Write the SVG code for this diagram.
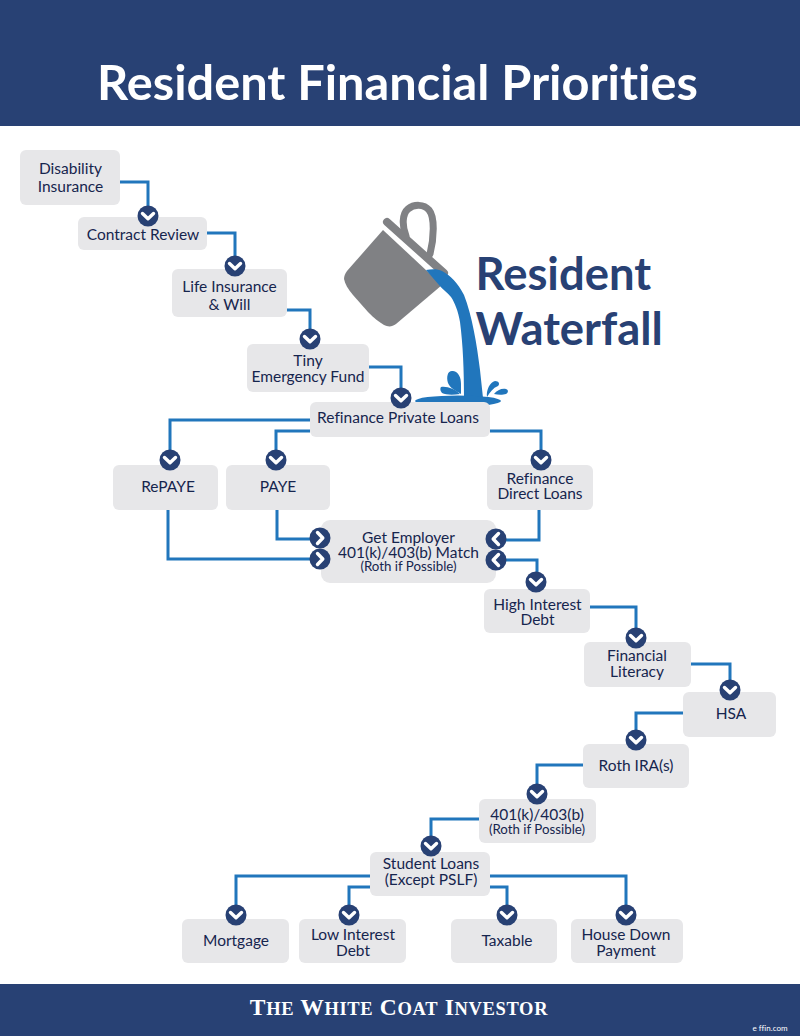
<svg xmlns="http://www.w3.org/2000/svg" width="800" height="1036" viewBox="0 0 800 1036">
<style>
.band{fill:#284174}
.box{fill:#e7e7e9}
text{font-variant-ligatures:none}
.t{font-family:Lato,"Open Sans",sans-serif;font-size:15.5px;fill:#16254e;text-anchor:middle}
.s{font-size:13.300px}
.c{fill:none;stroke:#2176bc;stroke-width:3}
.bub{fill:#284174}
.chev{fill:none;stroke:#fff;stroke-width:3.4;stroke-linecap:round;stroke-linejoin:round}
</style>
<defs>
<g id="d"><circle class="bub" r="10.5"/><path class="chev" d="M-5.5-2.5 0 2.8 5.500-2.5"/></g>
<g id="r"><circle class="bub" r="10.5"/><path class="chev" d="M-2.500-5.500 2.800 0-2.500 5.500"/></g>
<g id="l"><circle class="bub" r="10.5"/><path class="chev" d="M2.500-5.500-2.800 0 2.500 5.500"/></g>
</defs>
<rect width="800" height="1036" fill="#fff"/>
<g id="header"><rect class="band" width="800" height="126"/>
<text x="397.500" y="100" font-family="Lato,sans-serif" font-weight="700" font-size="48.700" fill="#fff" text-anchor="middle">Resident Financial Priorities</text></g>
<g id="footer"><rect class="band" y="984" width="800" height="52"/>
<text x="399" y="1014.500" font-family="'Liberation Serif',serif" font-weight="700" font-size="23.500" fill="#fff" text-anchor="middle" letter-spacing=".65">T<tspan font-size="18.500">HE</tspan> W<tspan font-size="18.500">HITE</tspan> C<tspan font-size="18.500">OAT</tspan> I<tspan font-size="18.500">NVESTOR</tspan></text>
<text x="770" y="1031" font-family="Lato,sans-serif" font-size="8" fill="#fff" text-anchor="middle">e ffin.com</text></g>
<g id="connectors">
<path class="c" d="M119 182H148V216"/>
<path class="c" d="M207 233H235V266"/>
<path class="c" d="M287 310H310V339"/>
<path class="c" d="M369 367H401V398"/>
<path class="c" d="M310 420H170V460"/>
<path class="c" d="M310 431H276V460"/>
<path class="c" d="M490 431H541V460"/>
<path class="c" d="M277 510V539H320"/>
<path class="c" d="M168 510V559H320"/>
<path class="c" d="M539 510V540H496"/>
<path class="c" d="M496 560H537V582"/>
<path class="c" d="M590 607H636V638"/>
<path class="c" d="M691 664H730V690"/>
<path class="c" d="M683 713H636V740"/>
<path class="c" d="M583 765H537V794"/>
<path class="c" d="M479 819H431V846"/>
<path class="c" d="M370 876H236V915"/>
<path class="c" d="M370 887H349V915"/>
<path class="c" d="M490 887H507V915"/>
<path class="c" d="M490 876H626V915"/>
</g>
<g id="bucket">
<path d="M406 236C402 226 402 214 408 209C414 204 424 204 429 210C435 217 434 238 430 254" fill="none" stroke="#808184" stroke-width="7" stroke-linecap="round"/>
<path d="M387 222 444 273" fill="none" stroke="#808184" stroke-width="8" stroke-linecap="round"/>
<path d="M383 230 442 285 396 324C392 327 388 327 384 325 379 322 374 318 368 312L353 295C348 289 345 284 344 279 344 276 345 274 347 271Z" fill="#808184"/>
<path d="M384 227 441 280" fill="none" stroke="#fff" stroke-width="1.800"/>
</g>
<g id="water" fill="#2176bc">
<path d="M426 270C432 269 438 269 442 271 450 275 458 283 464 295 472 315 477 345 480 370L483 398H464C464 370 463 345 460 322 458 311 455 303 451 297 447 292 443 290 439 285Z"/>
<ellipse cx="458" cy="401" rx="43" ry="5.500"/>
<path d="M461 394C456 391 450 388 448 383 446 376 448 370 453 371 459 372 461 378 461 384Z"/>
<path d="M441 387C447 386 455 389 460 394 453 395 446 395 442 393 440 391 440 388 441 387Z"/>
<path d="M487 397C486 390 490 382 495 381 499 381 500 384 498 386 493 388 490 392 487 397Z"/>
<path d="M494 394C497 390 502 388 506 389 509 390 508 393 506 394 503 395 498 395 494 394Z"/>
</g>
<g id="title" font-family="Lato,sans-serif" font-weight="700" font-size="45.400" fill="#284174">
<text x="475.500" y="290">Resident</text><text x="475.500" y="345">Waterfall</text></g>
<g id="n1"><rect class="box" x="20" y="150" width="100" height="55" rx="6"/><text class="t" x="70.500" y="174">Disability</text><text class="t" x="70.500" y="192">Insurance</text></g>
<g id="n2"><rect class="box" x="78" y="217" width="129" height="33" rx="6"/><text class="t" x="143" y="240">Contract Review</text></g>
<g id="n3"><rect class="box" x="172" y="269" width="115" height="48" rx="6"/><text class="t" x="229.500" y="292">Life Insurance</text><text class="t" x="229.500" y="310">&amp; Will</text></g>
<g id="n4"><rect class="box" x="247" y="344" width="122" height="48" rx="6"/><text class="t" x="308" y="366">Tiny</text><text class="t" x="308" y="382">Emergency Fund</text></g>
<g id="n5"><rect class="box" x="310" y="402" width="180" height="35" rx="6"/><text class="t" x="398" y="423">Refinance Private Loans</text></g>
<g id="n6"><rect class="box" x="113" y="465" width="105" height="45" rx="6"/><text class="t" x="168" y="492">RePAYE</text></g>
<g id="n7"><rect class="box" x="226" y="465" width="104" height="45" rx="6"/><text class="t" x="278" y="492">PAYE</text></g>
<g id="n8"><rect class="box" x="487" y="465" width="106" height="45" rx="6"/><text class="t" x="540" y="483.500">Refinance</text><text class="t" x="540" y="499">Direct Loans</text></g>
<g id="n9"><rect class="box" x="321" y="520" width="175" height="63" rx="9"/><text class="t" x="408.500" y="543">Get Employer</text><text class="t" x="408.500" y="558">401(k)/403(b) Match</text><text class="t s" x="408.500" y="571">(Roth if Possible)</text></g>
<g id="n10"><rect class="box" x="484" y="589" width="106" height="44" rx="6"/><text class="t" x="537.500" y="610">High Interest</text><text class="t" x="537.500" y="625">Debt</text></g>
<g id="n11"><rect class="box" x="584" y="642" width="107" height="45" rx="6"/><text class="t" x="637" y="661">Financial</text><text class="t" x="637" y="677">Literacy</text></g>
<g id="n12"><rect class="box" x="683" y="692" width="93" height="45" rx="6"/><text class="t" x="731" y="719">HSA</text></g>
<g id="n13"><rect class="box" x="583" y="744" width="106" height="44" rx="6"/><text class="t" x="636" y="771">Roth IRA(s)</text></g>
<g id="n14"><rect class="box" x="479" y="799" width="117" height="44" rx="6"/><text class="t" x="537" y="820">401(k)/403(b)</text><text class="t s" x="537" y="834">(Roth if Possible)</text></g>
<g id="n15"><rect class="box" x="370" y="852" width="120" height="44" rx="6"/><text class="t" x="431" y="869">Student Loans</text><text class="t" x="431" y="885">(Except PSLF)</text></g>
<g id="n16"><rect class="box" x="182" y="919" width="107" height="44" rx="6"/><text class="t" x="236" y="946">Mortgage</text></g>
<g id="n17"><rect class="box" x="299" y="919" width="107" height="44" rx="6"/><text class="t" x="353" y="940">Low Interest</text><text class="t" x="353" y="956">Debt</text></g>
<g id="n18"><rect class="box" x="451" y="919" width="106" height="44" rx="6"/><text class="t" x="507" y="946">Taxable</text></g>
<g id="n19"><rect class="box" x="571" y="919" width="112" height="44" rx="6"/><text class="t" x="626" y="940">House Down</text><text class="t" x="626" y="956">Payment</text></g>
<g id="arrows">
<use href="#d" x="148" y="216"/><use href="#d" x="235" y="266"/><use href="#d" x="310" y="339"/><use href="#d" x="401" y="398"/>
<use href="#d" x="170" y="460"/><use href="#d" x="276" y="460"/><use href="#d" x="541" y="460"/>
<use href="#r" x="320" y="538"/><use href="#r" x="320" y="559"/><use href="#l" x="496" y="539"/><use href="#l" x="496" y="560"/>
<use href="#d" x="536" y="582"/><use href="#d" x="636" y="638"/><use href="#d" x="730" y="690"/><use href="#d" x="636" y="740"/><use href="#d" x="537" y="794"/><use href="#d" x="431" y="846"/>
<use href="#d" x="236" y="915"/><use href="#d" x="349" y="915"/><use href="#d" x="507" y="915"/><use href="#d" x="626" y="915"/>
</g>
</svg>
